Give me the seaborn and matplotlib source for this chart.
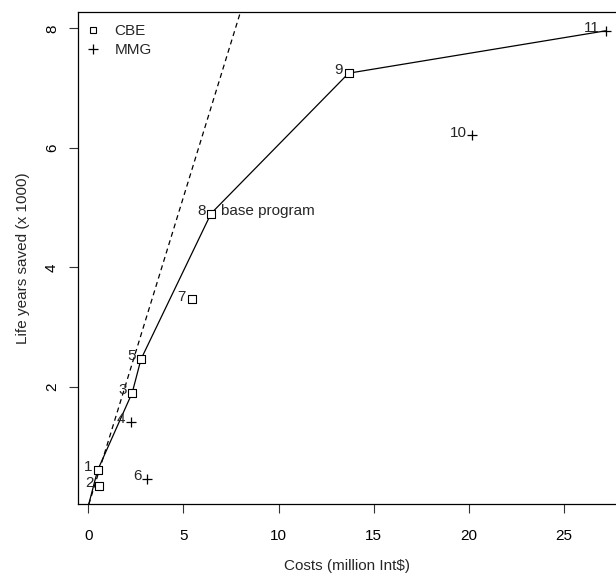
import matplotlib
matplotlib.use('Agg')
import matplotlib.pyplot as plt
from matplotlib.lines import Line2D
import seaborn as sns
import pandas as pd

# programme options: id, costs (million Int$), life years saved (x 1000), type
ids = [1, 2, 3, 4, 5, 6, 7, 8, 9, 10, 11]
costs = [0.49, 0.58, 2.31, 2.24, 2.77, 3.10, 5.43, 6.45, 13.68, 20.16, 27.19]
lys = [0.60, 0.34, 1.90, 1.41, 2.46, 0.45, 3.46, 4.90, 7.25, 6.21, 7.96]
kind = ['CBE', 'CBE', 'CBE', 'MMG', 'CBE', 'MMG', 'CBE', 'CBE', 'CBE', 'MMG', 'MMG']

# efficiency frontier (starts at origin)
frontier_ids = [0, 1, 3, 5, 8, 9, 11]
# dashed threshold line through origin
threshold_slope = 1.035

data = pd.DataFrame({'id': ids, 'cost': costs, 'ly': lys, 'kind': kind})
origin = pd.DataFrame({'id': [0], 'cost': [0.0], 'ly': [0.0], 'kind': ['']})
front = pd.concat([origin, data]).set_index('id').loc[frontier_ids].reset_index()

sns.set_style('ticks')
plt.rcParams['font.family'] = ['Liberation Sans', 'DejaVu Sans']
fs = 11

fig = plt.figure(figsize=(6.16, 5.77), dpi=100)
ax = fig.add_axes([0.1261, 0.126, 0.874, 0.8527])

sns.lineplot(data=front, x='cost', y='ly', sort=False, color='black', lw=0.9, ax=ax)
ax.axline((0, 0), slope=threshold_slope, color='black', lw=0.9, ls=(0, (4, 3)))

cbe = data[data['kind'] == 'CBE']
mmg = data[data['kind'] == 'MMG']
sns.scatterplot(data=cbe, x='cost', y='ly', marker='s', s=26, facecolor='white',
                edgecolor='black', linewidth=0.8, ax=ax, zorder=3)
sns.scatterplot(data=mmg, x='cost', y='ly', marker='+', s=55, color='black',
                linewidth=0.9, ax=ax, zorder=3)

for _, r in data.iterrows():
    ax.annotate(str(r['id']), (r['cost'], r['ly']), xytext=(-4, 2),
                textcoords='offset points', ha='right', va='center', fontsize=fs)
base = data[data['id'] == 8].iloc[0]
ax.annotate('base program', (base['cost'], base['ly']), xytext=(7, 1.5),
            textcoords='offset points', ha='left', va='center', fontsize=fs)

ax.set_xlim(-0.557, 27.73)
ax.set_ylim(0.03, 8.27)
ax.set_xticks([0, 5, 10, 15, 20, 25])
ax.set_yticks([2, 4, 6, 8])
ax.tick_params(axis='x', length=6.5, width=0.8, pad=11, labelsize=fs, colors='#333333')
ax.tick_params(axis='y', length=6.5, width=0.8, pad=7, labelsize=fs, colors='#333333',
               labelrotation=90)
for lab in ax.get_yticklabels():
    lab.set_va('center')
ax.tick_params(labelcolor='black')
ax.spines['right'].set_visible(False)
for s in ['left', 'top', 'bottom']:
    ax.spines[s].set_linewidth(0.9)
    ax.spines[s].set_color('black')

ax.set_xlabel('Costs (million Int$)', fontsize=fs, labelpad=12)
ax.set_ylabel('Life years saved (x 1000)', fontsize=fs, labelpad=11)

handles = [Line2D([], [], marker='s', ls='none', mfc='white', mec='black', ms=5, mew=0.8),
           Line2D([], [], marker='+', ls='none', color='black', ms=7.5, mew=0.9)]
ax.legend(handles, ['CBE', 'MMG'], loc='upper left', frameon=False, fontsize=fs,
          handlelength=1.0, handletextpad=0.9, labelspacing=0.3,
          bbox_to_anchor=(-0.003, 0.994), borderaxespad=0.2)

fig.savefig('out.png', dpi=100)
